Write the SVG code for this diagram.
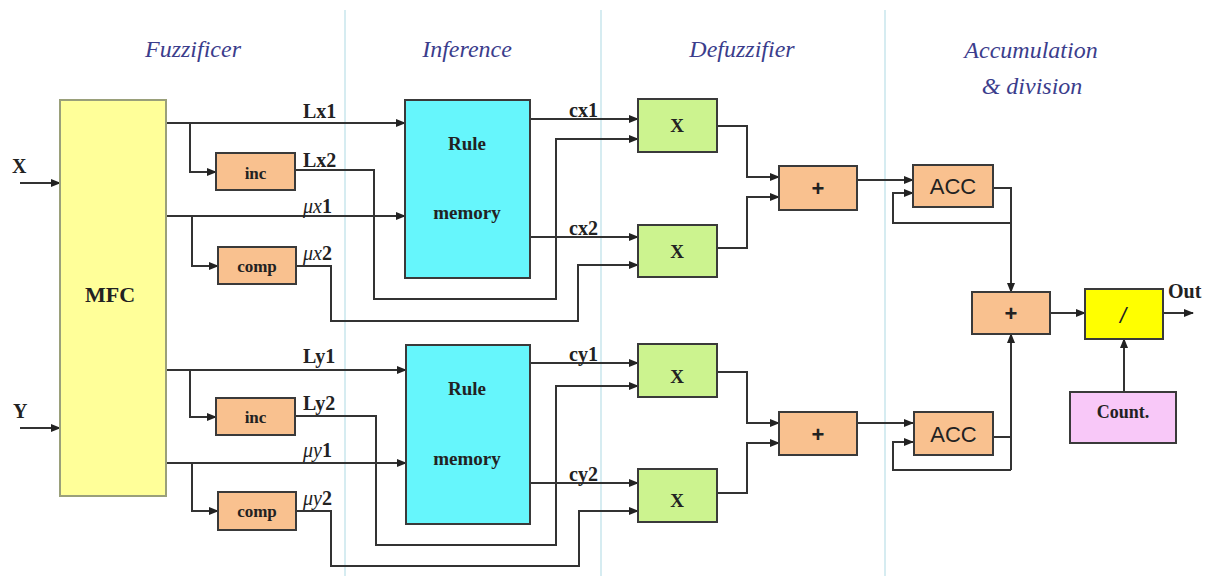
<svg xmlns="http://www.w3.org/2000/svg" width="1210" height="576" viewBox="0 0 1210 576">
<style>
.div{stroke:#c9e6ec;stroke-width:1.5;fill:none}
.title{font-family:"Liberation Serif","DejaVu Serif",serif;font-style:italic;font-size:24px;fill:#3b3d8c;text-anchor:middle}
.box{stroke:#3a3a3a;stroke-width:2}
.mfc{fill:#ffff99;stroke:#9aa07a;stroke-width:2}
.rule{fill:#66f6fc}
.mul{fill:#ccf38f}
.org{fill:#f9c18f}
.yel{fill:#ffff00}
.pink{fill:#f8c8f8}
.bl{font-family:"Liberation Serif","DejaVu Serif",serif;font-weight:bold;fill:#222;text-anchor:middle}
.ss{font-family:"Liberation Sans",sans-serif;fill:#222;text-anchor:middle}
.lab{font-family:"Liberation Serif","DejaVu Serif",serif;font-weight:bold;font-size:20px;fill:#222}
.it{font-style:italic;font-weight:normal}
.w{stroke:#333;stroke-width:2;fill:none}
.a{marker-end:url(#ah)}
</style>
<defs>
<marker id="ah" markerWidth="10" markerHeight="8" refX="9" refY="4" orient="auto" markerUnits="userSpaceOnUse">
<path d="M0,0 L10,4 L0,8 z" fill="#222"/>
</marker>
</defs>
<rect width="1210" height="576" fill="#ffffff"/>
<g id="dividers">
<line class="div" x1="345" y1="10" x2="345" y2="576"/>
<line class="div" x1="601" y1="10" x2="601" y2="576"/>
<line class="div" x1="885" y1="10" x2="885" y2="576"/>
</g>
<g id="titles">
<text class="title" x="193" y="57">Fuzzificer</text>
<text class="title" x="467" y="57">Inference</text>
<text class="title" x="742" y="57">Defuzzifier</text>
<text class="title" x="1031" y="58">Accumulation</text>
<text class="title" x="1032" y="94">&amp; division</text>
</g>
<g id="connectors">
<path class="w a" d="M20,183 H60"/>
<path class="w a" d="M20,428 H60"/>
<path class="w a" d="M166,123 H405"/>
<path class="w a" d="M190,123 V172 H216"/>
<path class="w a" d="M295,170 H374 V299 H556 V139 H638"/>
<path class="w a" d="M166,216 H405"/>
<path class="w a" d="M192,216 V266 H218"/>
<path class="w a" d="M296,266 H331 V321 H578 V265 H638"/>
<path class="w a" d="M530,119 H638"/>
<path class="w a" d="M530,237 H638"/>
<path class="w a" d="M717,126 H747 V177 H779"/>
<path class="w a" d="M717,248 H747 V197 H779"/>
<path class="w a" d="M857,180 H913"/>
<path class="w a" d="M993,188 H1011 V292"/>
<path class="w a" d="M1011,223 H893 V193 H913"/>
<path class="w a" d="M166,370 H406"/>
<path class="w a" d="M190,370 V417 H216"/>
<path class="w a" d="M295,416 H376 V545 H556 V386 H638"/>
<path class="w a" d="M166,463 H406"/>
<path class="w a" d="M192,463 V511 H218"/>
<path class="w a" d="M296,511 H331 V566 H579 V511 H638"/>
<path class="w a" d="M530,363 H638"/>
<path class="w a" d="M530,483 H638"/>
<path class="w a" d="M717,372 H747 V423 H779"/>
<path class="w a" d="M717,493 H747 V443 H779"/>
<path class="w a" d="M857,423 H913"/>
<path class="w" d="M993,437 H1011"/>
<path class="w a" d="M1011,470 V334"/>
<path class="w a" d="M1011,470 H893 V442 H913"/>
<path class="w a" d="M1050,313 H1085"/>
<path class="w a" d="M1163,313 H1193"/>
<path class="w a" d="M1124,392 V339"/>
</g>
<g id="labels">
<text class="lab" x="12" y="173" font-size="22">X</text>
<text class="lab" x="13" y="418" font-size="20">Y</text>
<text class="lab" x="303" y="118">Lx1</text>
<text class="lab" x="303" y="167">Lx2</text>
<text class="lab" x="303" y="213"><tspan class="it">μx</tspan>1</text>
<text class="lab" x="303" y="260"><tspan class="it">μx</tspan>2</text>
<text class="lab" x="303" y="363">Ly1</text>
<text class="lab" x="303" y="410">Ly2</text>
<text class="lab" x="303" y="457"><tspan class="it">μy</tspan>1</text>
<text class="lab" x="303" y="505"><tspan class="it">μy</tspan>2</text>
<text class="lab" x="569" y="117">cx1</text>
<text class="lab" x="569" y="235">cx2</text>
<text class="lab" x="569" y="361">cy1</text>
<text class="lab" x="569" y="481">cy2</text>
<text class="lab" x="1168" y="298">Out</text>
</g>
<g id="mfc">
<rect class="mfc" x="60" y="100" width="106" height="396"/>
<text class="bl" x="110" y="302" font-size="22">MFC</text>
</g>
<g id="inc-x">
<rect class="box org" x="216" y="153" width="79" height="37"/>
<text class="bl" x="255.5" y="179" font-size="17">inc</text>
</g>
<g id="comp-x">
<rect class="box org" x="218" y="247" width="78" height="37"/>
<text class="bl" x="257" y="272" font-size="17">comp</text>
</g>
<g id="inc-y">
<rect class="box org" x="216" y="398" width="79" height="37"/>
<text class="bl" x="255.5" y="423" font-size="17">inc</text>
</g>
<g id="comp-y">
<rect class="box org" x="218" y="492" width="78" height="38"/>
<text class="bl" x="257" y="517" font-size="17">comp</text>
</g>
<g id="rule-x">
<rect class="box rule" x="405" y="100" width="125" height="178"/>
<text class="bl" x="467" y="150" font-size="19">Rule</text>
<text class="bl" x="467" y="219" font-size="19">memory</text>
</g>
<g id="rule-y">
<rect class="box rule" x="406" y="345" width="124" height="179"/>
<text class="bl" x="467" y="395" font-size="19">Rule</text>
<text class="bl" x="467" y="465" font-size="19">memory</text>
</g>
<g id="mul-x1">
<rect class="box mul" x="638" y="99" width="79" height="53"/>
<text class="bl" x="677" y="132" font-size="19">X</text>
</g>
<g id="mul-x2">
<rect class="box mul" x="638" y="225" width="79" height="52"/>
<text class="bl" x="677" y="258" font-size="19">X</text>
</g>
<g id="mul-y1">
<rect class="box mul" x="638" y="344" width="79" height="53"/>
<text class="bl" x="677" y="383" font-size="19">X</text>
</g>
<g id="mul-y2">
<rect class="box mul" x="638" y="469" width="79" height="53"/>
<text class="bl" x="677" y="507" font-size="19">X</text>
</g>
<g id="add-x">
<rect class="box org" x="779" y="166" width="78" height="44"/>
<text class="ss" x="818" y="196" font-size="22" font-weight="bold">+</text>
</g>
<g id="add-y">
<rect class="box org" x="779" y="412" width="78" height="43"/>
<text class="ss" x="818" y="442" font-size="22" font-weight="bold">+</text>
</g>
<g id="acc-x">
<rect class="box org" x="913" y="165" width="80" height="42"/>
<text class="ss" x="953" y="194" font-size="22">ACC</text>
</g>
<g id="acc-y">
<rect class="box org" x="914" y="412" width="79" height="43"/>
<text class="ss" x="953.5" y="442" font-size="22">ACC</text>
</g>
<g id="add-out">
<rect class="box org" x="972" y="292" width="78" height="42"/>
<text class="ss" x="1011" y="321" font-size="22" font-weight="bold">+</text>
</g>
<g id="div">
<rect class="box yel" x="1085" y="289" width="78" height="50"/>
<text class="ss" x="1123" y="323" font-size="22" font-style="italic">/</text>
</g>
<g id="count">
<rect class="box pink" x="1070" y="392" width="106" height="51"/>
<text class="bl" x="1123" y="418" font-size="18">Count.</text>
</g>
</svg>
